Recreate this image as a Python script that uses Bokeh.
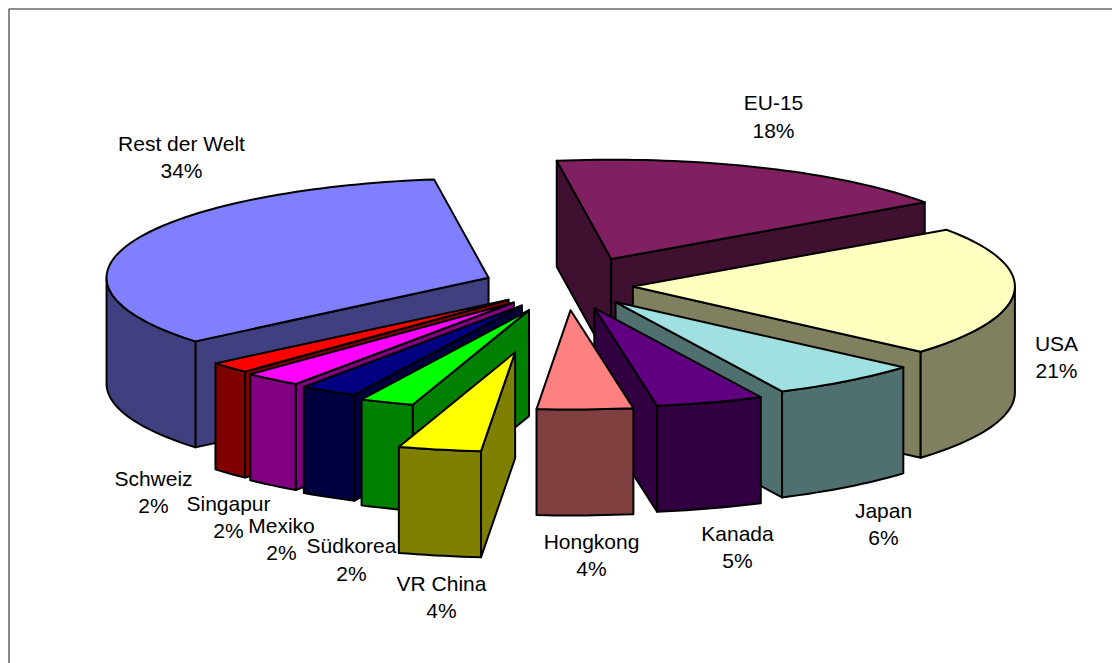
import math

from bokeh.core.properties import value
from bokeh.embed import file_html
from bokeh.models import ColumnDataSource, Range1d
from bokeh.plotting import figure
from bokeh.resources import INLINE

# Export shares in percent, clockwise from the first slice
categories = ["EU-15", "USA", "Japan", "Kanada", "Hongkong", "VR China",
              "Südkorea", "Mexiko", "Singapur", "Schweiz", "Rest der Welt"]
shares = [17.6, 21.1, 6.4, 4.55, 4.05, 3.5, 2.3, 2.45, 2.45, 1.8, 33.8]

top_colors = ["#802060", "#FFFFC0", "#A0E0E0", "#600080", "#FF8080", "#FFFF00",
              "#00FF00", "#000080", "#FF00FF", "#FF0000", "#8080FF"]
side_colors = ["#401030", "#808060", "#507070", "#300040", "#804040", "#808000",
               "#008000", "#000040", "#800080", "#800000", "#404080"]

# Distance each slice is pulled out of the pie
explode = [111, 66, 80, 90, 95, 262, 102, 89, 84, 80, 84]

# Label anchors: centre x, y of the name line, y of the percent line
label_x = [773, 1056, 883, 737, 591, 441, 351, 281, 228, 153, 181]
name_y = [102, 343, 510, 533, 541, 583, 545, 525, 503, 478, 143]
pct_y = [130, 370, 537, 560, 568, 610, 573, 552, 530, 505, 170]

# Pie geometry on the page
CX, CY = 566.5, 285.0
RADIUS = 382.0
ASPECT = 0.26
DEPTH = 106.0
FIRST_ANGLE = -8.2
ARC_STEP = 1.5


def project(px, py, drop=0.0):
    """Map a point on the pie's plane (y pointing away) to page coordinates."""
    return CX + px, CY - ASPECT * py + drop


def polar(angle, radius):
    a = math.radians(angle)
    return radius * math.sin(a), radius * math.cos(a)


def arc_angles(a0, a1):
    count = max(2, int(abs(a1 - a0) / ARC_STEP) + 1)
    return [a0 + (a1 - a0) * i / count for i in range(count + 1)]


def slice_faces(a0, a1, pull):
    """Polygons of one slice, back to front: radial faces, outer wall, top."""
    ox, oy = polar((a0 + a1) / 2, pull)
    rim = lambda a: (lambda q: (ox + q[0], oy + q[1]))(polar(a, RADIUS))
    faces = []

    for edge, visible in ((a0, math.sin(math.radians(a0)) < 0),
                          (a1, math.sin(math.radians(a1)) > 0)):
        if visible:
            ex, ey = rim(edge)
            quad = [project(ox, oy), project(ex, ey),
                    project(ex, ey, DEPTH), project(ox, oy, DEPTH)]
            faces.append(("side", quad))

    w0, w1 = max(a0, 90.0), min(a1, 270.0)
    if w1 > w0:
        ring = [rim(a) for a in arc_angles(w0, w1)]
        wall = [project(*q) for q in ring] + [project(*q, DEPTH) for q in reversed(ring)]
        faces.append(("side", wall))

    top = [project(ox, oy)] + [project(*rim(a)) for a in arc_angles(a0, a1)]
    faces.append(("top", top))
    return faces


# Sweep of each slice in degrees
total = sum(shares)
starts, ends = [], []
angle = FIRST_ANGLE
for share in shares:
    starts.append(angle)
    angle += 360.0 * share / total
    ends.append(angle)

# Painter's order: far slices first, the small fan ends with the front-most wedge
draw_order = [0, 10, 1, 2, 3, 4, 9, 8, 7, 6, 5]

xs, ys, fills = [], [], []
for i in draw_order:
    for kind, poly in slice_faces(starts[i], ends[i], explode[i]):
        xs.append([q[0] for q in poly])
        ys.append([q[1] for q in poly])
        fills.append(top_colors[i] if kind == "top" else side_colors[i])

p = figure(width=1112, height=663, output_backend="svg", toolbar_location=None,
           x_range=Range1d(0, 1112), y_range=Range1d(663, 0),
           min_border=0, outline_line_color=None, x_axis_type=None, y_axis_type=None)
p.grid.visible = False
p.background_fill_color = "white"
p.border_fill_color = "white"

# Chart frame, running off the page on the right and at the bottom
p.line([8.5, 8.5, 1112], [663, 8.5, 8.5], line_color="#6A6A6A", line_width=1.6)

p.patches(xs="xs", ys="ys", fill_color="fill", line_color="black", line_width=2,
          line_join="round",
          source=ColumnDataSource(dict(xs=xs, ys=ys, fill=fills)))

# Percent labels are the shares shown to whole numbers
labels = ColumnDataSource(dict(
    x=label_x + label_x,
    y=name_y + pct_y,
    text=categories + [f"{round(s)}%" for s in shares],
))
p.text(x="x", y="y", text="text", source=labels, text_align="center",
       text_baseline="middle", text_color="black",
       text_font=value("Liberation Sans"), text_font_size="21px")

open("out.html", "w").write(file_html(p, INLINE))
